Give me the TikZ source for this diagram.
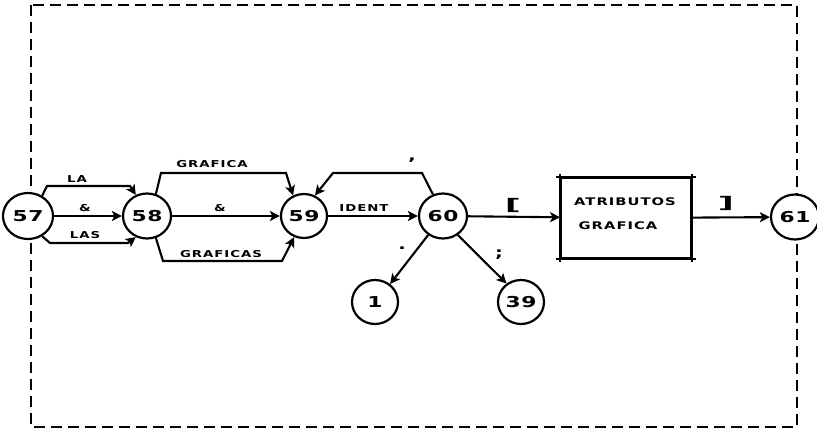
\documentclass[tikz,border=0pt]{standalone}
\usepackage{fontspec}
\usetikzlibrary{arrows.meta,shapes.geometric}
\newfontfamily\labfont[FakeStretch=1.4,LetterSpace=10]{DejaVu Sans Bold}
\newfontfamily\numfont[FakeStretch=1.45,LetterSpace=4]{DejaVu Sans Bold}
\newfontfamily\brfont[FakeStretch=2.2]{DejaVu Sans Bold}
\newcommand{\nb}[1]{\makebox[0pt]{#1}}
\begin{document}
\begin{tikzpicture}[x=1pt,y=-1pt,
  state/.style={ellipse,draw,fill=white,line width=2.2pt,minimum width=48pt,minimum height=45pt,inner sep=0pt,font=\numfont\fontsize{15}{15}\selectfont},
  lbl/.style={inner sep=0pt,font=\labfont\fontsize{9.5}{10}\selectfont},
  conn/.style={line width=2.1pt,-{Stealth[length=10pt,width=10pt,inset=2.5pt]}},
  boxst/.style={draw,line width=1.8pt,minimum width=130pt,minimum height=80pt,inner sep=0pt,align=center}]
\useasboundingbox (0,0) rectangle (817,433);
\draw[line width=2.2pt,dash pattern=on 11pt off 6pt] (31,5) rectangle (797,427);
\node[state,minimum width=50pt,minimum height=46pt] (n57) at (28,216) {\nb{57}};
\node[state] (n58) at (147,216) {\nb{58}};
\node[state,minimum width=46pt,minimum height=44pt] (n59) at (304,216) {\nb{59}};
\node[state] (n60) at (443,216) {\nb{60}};
\node[state,minimum width=46pt,minimum height=44pt] (n1) at (375,302) {\nb{1}};
\node[state,minimum width=46pt,minimum height=44pt] (n39) at (521,302) {\nb{39}};
\node[state] (n61) at (795,217) {\nb{61}};
\node[boxst] (box) at (626,218) {};
\node[lbl,font=\labfont\fontsize{10.5}{11}\selectfont] (t1) at (625,202) {ATRIBUTOS};
\node[lbl,font=\labfont\fontsize{10.5}{11}\selectfont] (t2) at (618,226) {GRAFICA};
\draw[line width=1.8pt,shorten <=-4pt,shorten >=-4pt] (box.north west) -- (box.north east);
\draw[line width=1.8pt,shorten <=-4pt,shorten >=-4pt] (box.south west) -- (box.south east);
\draw[line width=1.8pt,shorten <=-3pt,shorten >=-3pt] (box.north west) -- (box.south west);
\draw[line width=1.8pt,shorten <=-3pt,shorten >=-3pt] (box.north east) -- (box.south east);
% 57 -> 58
\draw[conn] (n57.55) -- (47,186) -- (130,186) -- (n58.118);
\node[lbl] (lLA) at (77,179) {LA};
\draw[conn] (n57) -- (n58);
\node[lbl] (lA1) at (85,208) {\&};
\draw[conn] (n57.-55) -- (50,243) -- (128,243) -- (n58.-118);
\node[lbl] (lLAS) at (85,235) {LAS};
% 58 -> 59
\draw[conn] (n58.68) -- (161,173) -- (286,173) -- (n59.118);
\node[lbl] (lG) at (212,164) {GRAFICA};
\draw[conn] (n58) -- (n59);
\node[lbl] (lA2) at (220,208) {\&};
\draw[conn] (n58.-68) -- (163,261) -- (282,261) -- (n59.-115);
\node[lbl] (lGS) at (221,254) {GRAFICAS};
% 59 -> 60
\draw[conn] (n59) -- (n60);
\node[lbl] (lID) at (364,208) {IDENT};
\draw[conn] (n60.115) -- (422,173) -- (333,173) -- (n59.62);
\node[lbl,font=\labfont\fontsize{14}{14}\selectfont] (lcomma) at (412,160) {,};
% 60 -> others
\draw[conn] (n60.-128) -- (n1.50);
\node[lbl,font=\labfont\fontsize{14}{14}\selectfont] (ldot) at (402,248) {.};
\draw[conn] (n60.-52) -- (n39.128);
\node[lbl,font=\labfont\fontsize{14}{14}\selectfont] (lsemi) at (499,255) {;};
\draw[conn] (n60) -- (box);
\node[lbl,font=\brfont\fontsize{16}{16}\selectfont] (lob) at (513,205) {[};
\draw[conn] (box) -- (n61);
\node[lbl,font=\brfont\fontsize{16}{16}\selectfont] (lcb) at (726,203) {]};
\end{tikzpicture}
\end{document}
